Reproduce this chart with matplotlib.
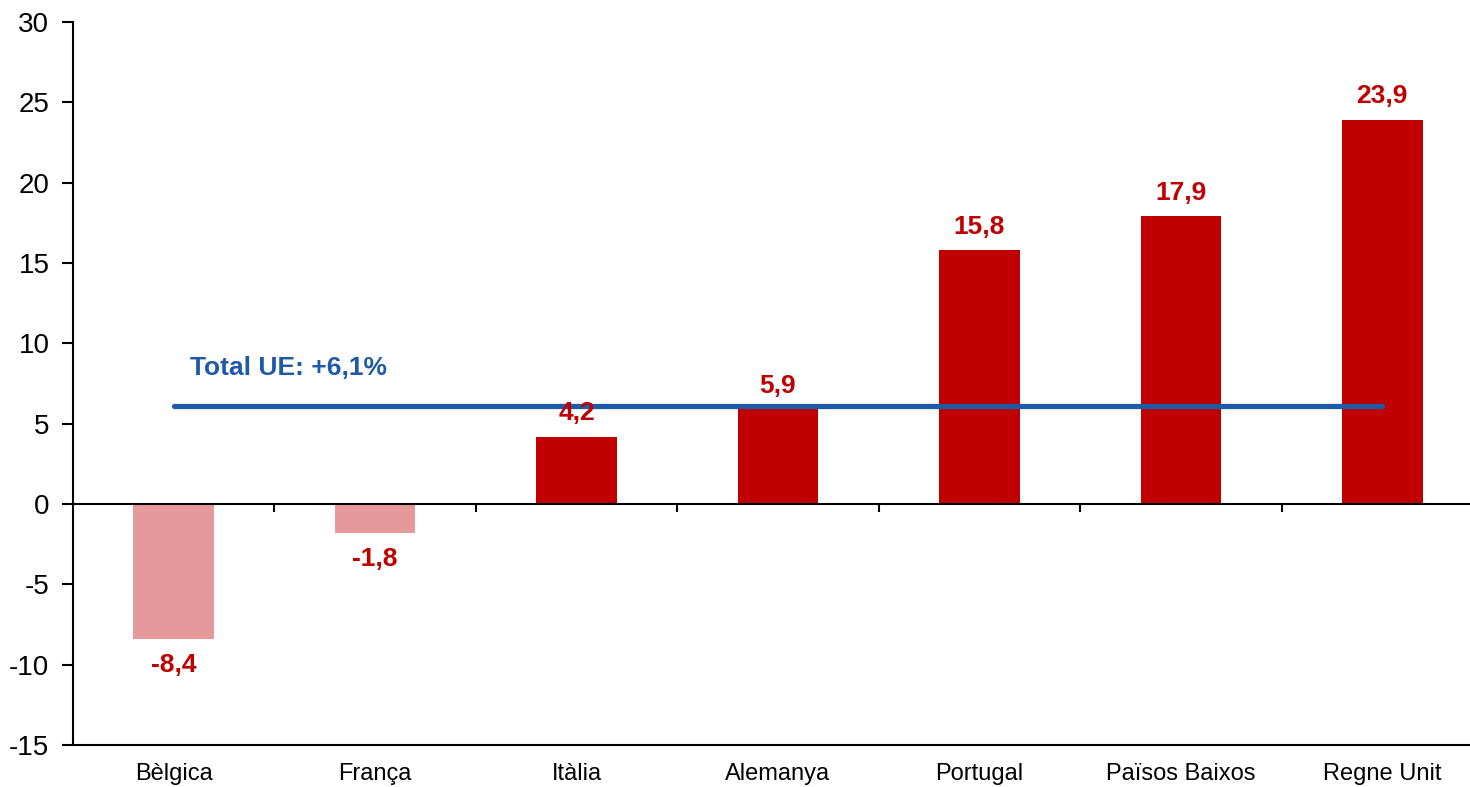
import matplotlib
matplotlib.use('Agg')
import matplotlib.pyplot as plt
import numpy as np

plt.rcParams['font.family'] = ['Liberation Sans', 'DejaVu Sans']
plt.rcParams['axes.unicode_minus'] = False

countries = ['Bèlgica', 'França', 'Itàlia', 'Alemanya', 'Portugal', 'Països Baixos', 'Regne Unit']
values = [-8.4, -1.8, 4.2, 5.9, 15.8, 17.9, 23.9]
labels = ['-8,4', '-1,8', '4,2', '5,9', '15,8', '17,9', '23,9']
total_ue = 6.1
total_label = 'Total UE: +6,1%'

red = '#C00000'
pink = '#E6999A'
blue = '#1F5AA6'

fig = plt.figure(figsize=(14.7, 7.87), dpi=100)
ax = fig.add_axes([73/1470, 42/787, 1410/1470, 723/787])

x = np.arange(len(countries))
colors = [pink if v < 0 else red for v in values]
ax.bar(x, values, width=0.4, color=colors, zorder=2)

for xi, v, lab in zip(x, values, labels):
    off = 17 if v >= 0 else -19
    ax.annotate(lab, (xi, v), xytext=(0, off), textcoords='offset points',
                ha='center', va='center', fontsize=19, fontweight='bold', color=red, zorder=4)

# total EU line
ax.plot([x[0], x[-1]], [total_ue, total_ue], color=blue, lw=3.8, solid_capstyle='round', zorder=3)
ax.text(0.08, 8.45, total_label, color=blue, fontsize=19, fontweight='bold', ha='left', va='center')

# zero axis with tick marks between categories
ax.axhline(0, color='black', lw=1.5, zorder=3)
ax.vlines(np.arange(0.5, len(countries) - 1, 1.0), -0.5, 0, color='black', lw=1.5, zorder=3)

ax.set_xlim(-0.5, len(countries) - 0.5)
ax.set_ylim(-15, 30)
ax.set_yticks(np.arange(-15, 31, 5))
ax.set_xticks(x)
ax.set_xticklabels(countries, fontsize=17)
ax.tick_params(axis='x', length=0, pad=13)
ax.tick_params(axis='y', labelsize=20, length=8, width=1.5, direction='out', pad=9)

for s in ['top', 'right']:
    ax.spines[s].set_visible(False)
for s in ['left', 'bottom']:
    ax.spines[s].set_linewidth(1.5)

fig.savefig('out.png', dpi=100)
